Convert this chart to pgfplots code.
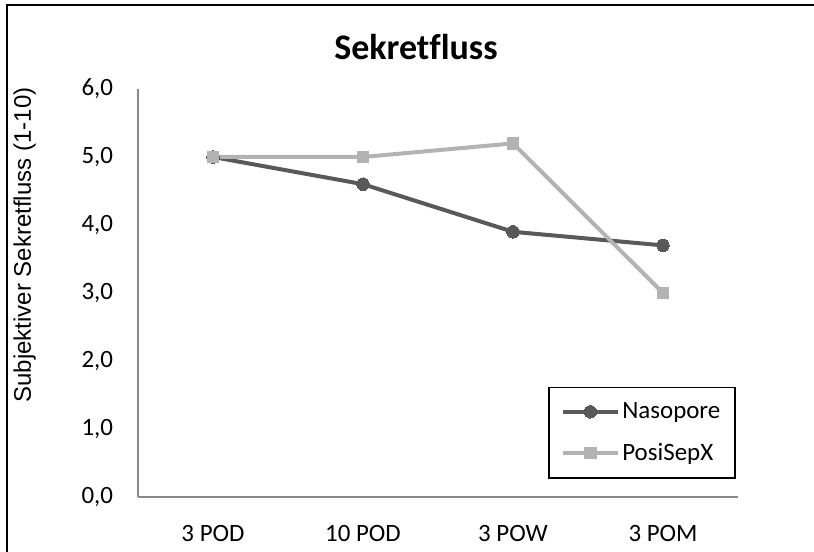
\documentclass[border=0pt]{standalone}
\usepackage{pgfplots}
\pgfplotsset{compat=1.18}
\usepackage{fontspec}
\setmainfont{Carlito}[Ligatures=NoCommon]
\newfontfamily\arialfont{Liberation Sans}
\definecolor{naso}{HTML}{595959}
\definecolor{posi}{HTML}{B3B3B3}
\definecolor{axgray}{HTML}{898989}
\begin{document}
\begin{tikzpicture}
\useasboundingbox (0,0) rectangle (610.5pt,414pt);
\clip (0,0) rectangle (610.5pt,414pt);
\draw[line width=1.6pt] (5.25pt,-10pt) -- (5.25pt,410.25pt) -- (620pt,410.25pt);
\node[font=\fontsize{27}{31}\selectfont\bfseries] at (312pt,378.5pt) {Sekretfluss};
\node[font=\arialfont\fontsize{18}{21}\selectfont, rotate=90] at (18.5pt,230.25pt) {Subjektiver Sekretfluss (1-10)};
\begin{axis}[
  at={(103.5pt,41.25pt)}, anchor=south west,
  scale only axis, width=450pt, height=306pt,
  xmin=-0.5, xmax=3.5, ymin=0, ymax=6,
  xtick={0,1,2,3}, xticklabels={3 POD,10 POD,3 POW,3 POM},
  ytick={0,1,2,3,4,5,6},
  axis lines*=left,
  axis line style={axgray, line width=1pt, -},
  major tick length=0pt,
  tick style={draw=none},
  /pgf/number format/assume math mode=true,
  yticklabel={\pgfmathprintnumber[fixed,fixed zerofill,precision=1,use comma]{\tick}},
  ticklabel style={font=\fontsize{18.7}{22}\selectfont},
  yticklabel style={anchor=east, inner sep=0pt, xshift=-18.5pt},
  xticklabel style={anchor=center, inner sep=0pt, yshift=-27.5pt},
  legend style={at={(0.996,0.045)}, anchor=south east, draw=black, line width=1pt,
    font=\fontsize{18.7}{22}\selectfont, row sep=13pt, inner xsep=9pt, inner ysep=9.5pt,
    /tikz/every even column/.append style={column sep=1pt}},
  legend cell align=left,
  legend image code/.code={\draw[mark repeat=2,mark phase=2] plot coordinates {(0pt,0pt) (20.5pt,0pt) (41pt,0pt)};},
]
\addplot[naso, line width=3pt, mark=*, mark size=4.7pt, mark options={solid, fill=naso, draw=naso, line width=0pt}] coordinates {(0,5.0) (1,4.6) (2,3.9) (3,3.7)};
\addlegendentry{Nasopore}
\addplot[posi, line width=3pt, mark=square*, mark size=4.4pt, mark options={solid, fill=posi, draw=posi, line width=0pt}] coordinates {(0,5.0) (1,5.0) (2,5.2) (3,3.0)};
\addlegendentry{PosiSepX}
\end{axis}
\end{tikzpicture}
\end{document}
